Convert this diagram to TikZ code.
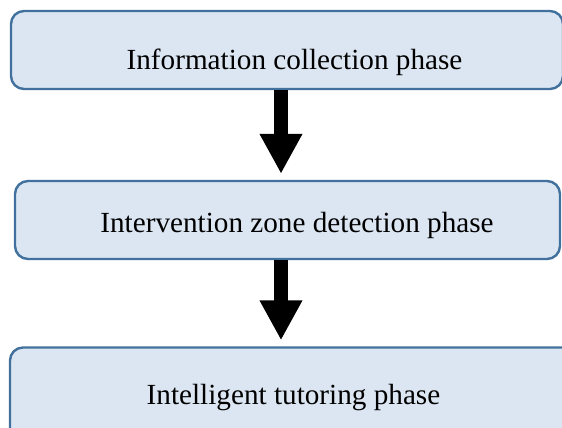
\documentclass[tikz,border=0pt]{standalone}
\usepackage{fontspec}
\setmainfont{Liberation Serif}
\usepackage{xcolor}
\usepackage{tikz}
\usetikzlibrary{arrows.meta}

\definecolor{phasefill}{HTML}{DCE6F2}
\definecolor{phaseline}{HTML}{41719C}

\begin{document}
\begin{tikzpicture}[x=1pt,y=1pt]
\tikzstyle{phase}=[draw=phaseline, fill=phasefill, line width=2.4pt, rounded corners=13pt,
  inner xsep=0pt, inner ysep=0pt, font=\fontsize{29.2}{35}\selectfont]
\tikzstyle{flow}=[line width=14pt, -{Triangle[length=40pt,width=40pt]}, shorten >=6pt]
\useasboundingbox (0,0) rectangle (562,-428);
\clip (0,0) rectangle (562,-428);

\node[phase, minimum width=552pt, minimum height=78pt, text height=59pt, text depth=19pt]
  (info) at (287,-50) {\hspace*{15pt}Information collection phase};
\node[phase, minimum width=545pt, minimum height=78pt, text height=51pt, text depth=27pt]
  (zone) at (287.5,-220) {\hspace*{19pt}Intervention zone detection phase};
\node[phase, minimum width=580pt, minimum height=95pt, text height=57pt, text depth=38pt]
  (tutor) at (300,-395) {\hspace*{-13pt}Intelligent tutoring phase};

\draw[flow] ([xshift=-6pt]info.south) -- ([xshift=-6.5pt]zone.north);
\draw[flow] ([xshift=-6.5pt]zone.south) -- ([xshift=-19pt]tutor.north);

\end{tikzpicture}
\end{document}
